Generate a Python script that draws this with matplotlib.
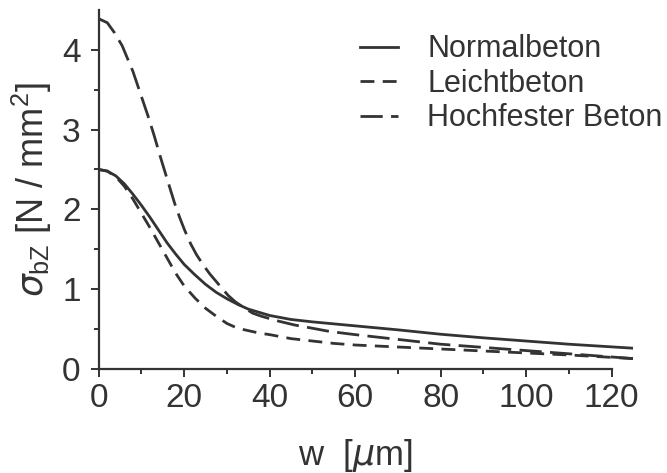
import numpy as np
import matplotlib.pyplot as plt

# crack opening w in micrometres and tensile stress sigma_bZ in N/mm^2
w_normal = [0, 2, 4, 6, 8, 10, 12, 14, 16, 18, 20, 22.5, 25, 27.5, 30, 32.5, 35,
            37.5, 40, 45, 50, 55, 60, 70, 80, 90, 100, 110, 125]
s_normal = [2.50, 2.48, 2.42, 2.32, 2.19, 2.05, 1.90, 1.74, 1.58, 1.44, 1.31, 1.18,
            1.06, 0.96, 0.88, 0.81, 0.75, 0.71, 0.67, 0.62, 0.59, 0.565, 0.54, 0.49,
            0.435, 0.39, 0.35, 0.31, 0.26]

w_leicht = [0, 2, 4, 6, 8, 10, 12, 14, 16, 18, 20, 22.5, 25, 27.5, 30, 32.5, 35,
            37.5, 40, 45, 50, 55, 60, 70, 80, 90, 100, 110, 125]
s_leicht = [2.50, 2.48, 2.41, 2.29, 2.13, 1.95, 1.77, 1.58, 1.39, 1.20, 1.04, 0.89,
            0.76, 0.66, 0.57, 0.51, 0.48, 0.45, 0.43, 0.38, 0.35, 0.32, 0.30, 0.275,
            0.25, 0.225, 0.20, 0.175, 0.13]

w_hoch = [0, 2, 3.75, 5.5, 6.9, 8, 9.2, 10.4, 11.6, 13, 14.3, 15.5, 16.7, 17.8, 19,
          20.1, 21.5, 22.9, 24.5, 26, 28.7, 30.3, 32, 34.2, 36, 38.1, 42, 45.9, 50,
          54, 60, 70, 80, 90, 100, 110, 125]
s_hoch = [4.39, 4.34, 4.21, 4.05, 3.87, 3.73, 3.54, 3.35, 3.16, 2.92, 2.68, 2.47,
          2.26, 2.07, 1.89, 1.74, 1.57, 1.43, 1.30, 1.19, 1.02, 0.92, 0.84, 0.76,
          0.70, 0.66, 0.60, 0.55, 0.51, 0.47, 0.43, 0.37, 0.31, 0.27, 0.23, 0.19, 0.13]

labels = ['Normalbeton', 'Leichtbeton', 'Hochfester Beton']

ink = '#333333'
plt.rcParams['font.family'] = ['Liberation Sans', 'DejaVu Sans']
plt.rcParams['mathtext.fontset'] = 'custom'
plt.rcParams['mathtext.rm'] = 'Liberation Sans'
plt.rcParams['mathtext.it'] = 'DejaVu Sans:italic'

fig = plt.figure(figsize=(6.67, 4.73), dpi=100)
ax = fig.add_axes([0.148, 0.22, 0.801, 0.759])

ax.plot(w_normal, s_normal, color=ink, lw=2.0, ls='-', label=labels[0])
ax.plot(w_leicht, s_leicht, color=ink, lw=2.0, ls=(0, (5, 3)), label=labels[1])
ax.plot(w_hoch, s_hoch, color=ink, lw=2.0, ls=(0, (8, 3)), label=labels[2])

ax.set_xlim(0, 125)
ax.set_ylim(0, 4.5)
ax.set_xticks([0, 20, 40, 60, 80, 100, 120])
ax.set_xticks(np.arange(10, 120, 20), minor=True)
ax.set_yticks([0, 1, 2, 3, 4])
ax.set_yticks([0.5, 1.5, 2.5, 3.5], minor=True)

for side in ['top', 'right']:
    ax.spines[side].set_visible(False)
ax.spines['bottom'].set_bounds(0, 120)
for side in ['left', 'bottom']:
    ax.spines[side].set_linewidth(1.6)
    ax.spines[side].set_color(ink)

ax.tick_params(axis='both', which='major', direction='out', length=6, width=1.4,
               colors=ink, labelsize=24)
ax.tick_params(axis='both', which='minor', direction='out', length=3.5, width=1.4,
               colors=ink)
ax.tick_params(axis='y', which='major', pad=7)
ax.tick_params(axis='x', which='major', pad=4)

ax.set_xlabel(r'w  [$\mu$m]', fontsize=25, color=ink)
ax.xaxis.set_label_coords(0.48, -0.19)
ax.set_ylabel(r'$\sigma_{\rm bZ}$ [N / mm$^2$]', fontsize=26, color=ink)
ax.yaxis.set_label_coords(-0.083, 0.5)

leg = ax.legend(loc='upper left', bbox_to_anchor=(0.438, 1.009), frameon=False,
                fontsize=22, handlelength=1.25, handletextpad=0.95, labelspacing=0.15)
for t in leg.get_texts():
    t.set_color(ink)

fig.savefig('out.png', dpi=100)
